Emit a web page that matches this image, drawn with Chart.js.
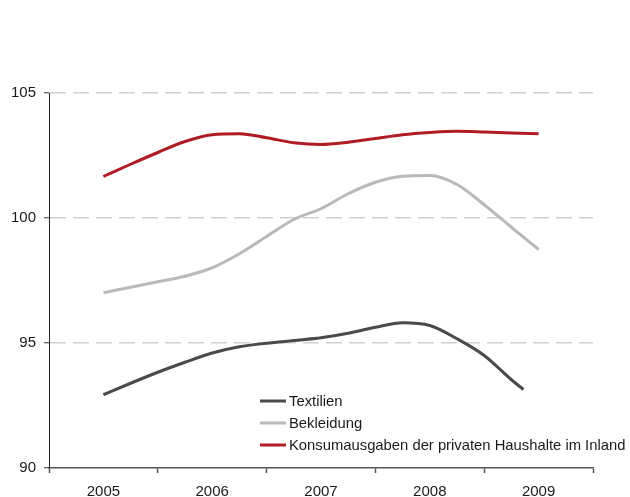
<!DOCTYPE html>
<html>
<head>
<meta charset="utf-8">
<script src="https://cdn.jsdelivr.net/npm/chart.js@4.4.0/dist/chart.umd.min.js"></script>
<style>
  body { margin: 0; background: #fff; }
  #wrap { width: 630px; height: 497px; }
</style>
</head>
<body>
<div id="wrap"><canvas id="chart" width="630" height="497"></canvas></div>
<script>
// quarterly positions, year center = first quarter mark
const quarters = [2005, 2005.25, 2005.5, 2005.75, 2006, 2006.25, 2006.5, 2006.75,
    2007, 2007.25, 2007.5, 2007.75, 2008, 2008.25, 2008.5, 2008.75, 2009];
const yearLabels = [2005, 2006, 2007, 2008, 2009];

const textilien = [92.93, 93.39, 93.83, 94.23, 94.6, 94.85, 94.99, 95.1,
    95.21, 95.39, 95.63, 95.81, 95.7, 95.17, 94.5, 93.53, 93.14];
// Textilien stops a bit before 2009
const textilienX = quarters.slice(0, 16).concat([2008.86]);

const bekleidung = [97.01, 97.23, 97.45, 97.67, 98.01, 98.57, 99.26, 99.94,
    100.37, 100.97, 101.43, 101.67, 101.7, 101.34, 100.53, 99.63, 98.74];

const konsum = [101.66, 102.15, 102.62, 103.06, 103.33, 103.37, 103.21, 103.01,
    102.94, 103.03, 103.18, 103.33, 103.42, 103.47, 103.44, 103.4, 103.37];

const seriesNames = ['Textilien', 'Bekleidung', 'Konsumausgaben der privaten Haushalte im Inland'];
const seriesColors = ['#4a4a4c', '#b9b9bd', '#b01c24'];

function toPoints(xs, ys) {
    return ys.map((y, i) => ({ x: xs[i], y: y }));
}

// simple legend drawn inside the plot, stacked vertically
const innerLegend = {
    id: 'innerLegend',
    afterDraw(chart, args, opts) {
        const ctx = chart.ctx;
        ctx.save();
        ctx.font = '14.8px "Liberation Sans", Arial, sans-serif';
        ctx.fillStyle = '#1a1a1a';
        ctx.textBaseline = 'middle';
        chart.data.datasets.forEach((ds, i) => {
            const y = opts.y + i * opts.spacing;
            ctx.strokeStyle = ds.borderColor;
            ctx.lineWidth = 3;
            ctx.beginPath();
            ctx.moveTo(opts.x, y);
            ctx.lineTo(opts.x + 26, y);
            ctx.stroke();
            ctx.fillText(ds.label, opts.x + 29, y + 1);
        });
        ctx.restore();
    }
};

const font = { family: '"Liberation Sans", Arial, sans-serif', size: 15 };

new Chart(document.getElementById('chart'), {
    type: 'line',
    data: {
        datasets: [
            { label: seriesNames[0], data: toPoints(textilienX, textilien), borderColor: seriesColors[0] },
            { label: seriesNames[1], data: toPoints(quarters, bekleidung), borderColor: seriesColors[1] },
            { label: seriesNames[2], data: toPoints(quarters, konsum), borderColor: seriesColors[2] }
        ]
    },
    options: {
        responsive: false,
        animation: false,
        layout: { padding: { top: 93, right: 37, left: 0, bottom: 0 } },
        elements: {
            line: { borderWidth: 3, tension: 0.4, cubicInterpolationMode: 'monotone', fill: false },
            point: { radius: 0 }
        },
        plugins: {
            legend: { display: false },
            tooltip: { enabled: false },
            innerLegend: { x: 260, y: 401, spacing: 22 }
        },
        scales: {
            x: {
                type: 'linear',
                min: 2004.5,
                max: 2009.5,
                afterFit: (s) => { s.height = 29; },
                afterBuildTicks: (s) => {
                    const t = [];
                    for (let v = 2004.5; v <= 2009.5; v += 0.5) t.push({ value: v });
                    s.ticks = t;
                },
                ticks: {
                    autoSkip: false,
                    maxRotation: 0,
                    padding: 10,
                    color: '#1a1a1a',
                    font: font,
                    callback: (v) => yearLabels.includes(v) ? String(v) : ''
                },
                grid: {
                    drawOnChartArea: false,
                    tickLength: 5,
                    tickWidth: 1.5,
                    tickColor: (c) => Number.isInteger(c.tick.value) ? 'rgba(0,0,0,0)' : '#555'
                },
                border: { color: '#555', width: 1.5 }
            },
            y: {
                min: 90,
                max: 105,
                afterFit: (s) => { s.width = 49; },
                ticks: {
                    stepSize: 5,
                    padding: 8,
                    color: '#1a1a1a',
                    font: font
                },
                grid: {
                    color: (c) => c.tick.value === 90 ? 'rgba(0,0,0,0)' : '#cfcfcf',
                    lineWidth: 1.5,
                    tickLength: 5,
                    tickColor: '#333',
                    tickWidth: 1,
                    tickBorderDash: []
                },
                border: { color: '#222', width: 1, dash: [16, 7] }
            }
        }
    },
    plugins: [innerLegend]
});
</script>
</body>
</html>
